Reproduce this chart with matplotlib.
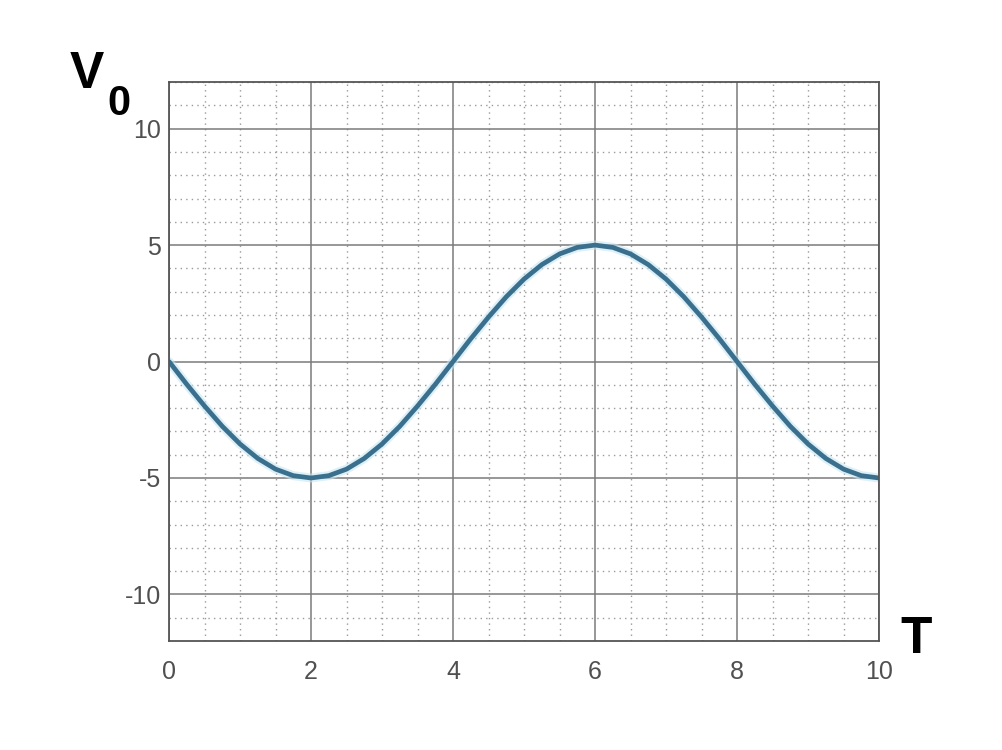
import matplotlib.pyplot as plt
from matplotlib.ticker import MultipleLocator

plt.rcParams['font.family'] = ['Liberation Sans', 'DejaVu Sans']
plt.rcParams['axes.unicode_minus'] = False

# values, every 0.25 on T
t = [0, 0.25, 0.5, 0.75, 1, 1.25, 1.5, 1.75, 2, 2.25, 2.5, 2.75, 3, 3.25, 3.5, 3.75,
     4, 4.25, 4.5, 4.75, 5, 5.25, 5.5, 5.75, 6, 6.25, 6.5, 6.75, 7, 7.25, 7.5, 7.75,
     8, 8.25, 8.5, 8.75, 9, 9.25, 9.5, 9.75, 10]
v0 = [0, -0.98, -1.91, -2.78, -3.54, -4.16, -4.62, -4.9, -5, -4.9, -4.62, -4.16, -3.54, -2.78, -1.91, -0.98,
      0, 0.98, 1.91, 2.78, 3.54, 4.16, 4.62, 4.9, 5, 4.9, 4.62, 4.16, 3.54, 2.78, 1.91, 0.98,
      0, -0.98, -1.91, -2.78, -3.54, -4.16, -4.62, -4.9, -5]

x_ticks = [0, 2, 4, 6, 8, 10]
y_ticks = [-10, -5, 0, 5, 10]

fig = plt.figure(figsize=(10.02, 7.5), dpi=100)
ax = fig.add_axes([0.1687, 0.1453, 0.7086, 0.7453])

ax.plot(t, v0, color="#c6e6f2", lw=6.5, solid_capstyle="round", solid_joinstyle="round", alpha=0.6)  # soft halo
ax.plot(t, v0, color="#3b6f8e", lw=3.4, solid_capstyle="round", solid_joinstyle="round")

ax.set_xlim(0, 10)
ax.set_ylim(-12, 12)
ax.set_xticks(x_ticks)
ax.set_yticks(y_ticks)
ax.xaxis.set_minor_locator(MultipleLocator(0.5))
ax.yaxis.set_minor_locator(MultipleLocator(1))

ax.grid(which="major", color="#7a7a7a", lw=1.1, ls="-")
ax.grid(which="minor", color="#9a9a9a", lw=1.0, ls=(0, (1, 3)))
ax.set_axisbelow(True)

ax.tick_params(which="both", length=0)
ax.tick_params(labelsize=18, labelcolor="#505050")
ax.tick_params(axis="x", pad=14)
ax.tick_params(axis="y", pad=6)
for s in ax.spines.values():
    s.set_color("#555555")
    s.set_linewidth(1.3)

fig.text(0.070, 0.8827, "V", fontsize=37, fontweight="bold", ha="left", va="baseline")
fig.text(0.1068, 0.8467, "0", fontsize=30, fontweight="bold", ha="left", va="baseline")
fig.text(0.899, 0.1293, "T", fontsize=37, fontweight="bold", ha="left", va="baseline")

fig.savefig("out.png", dpi=100)
